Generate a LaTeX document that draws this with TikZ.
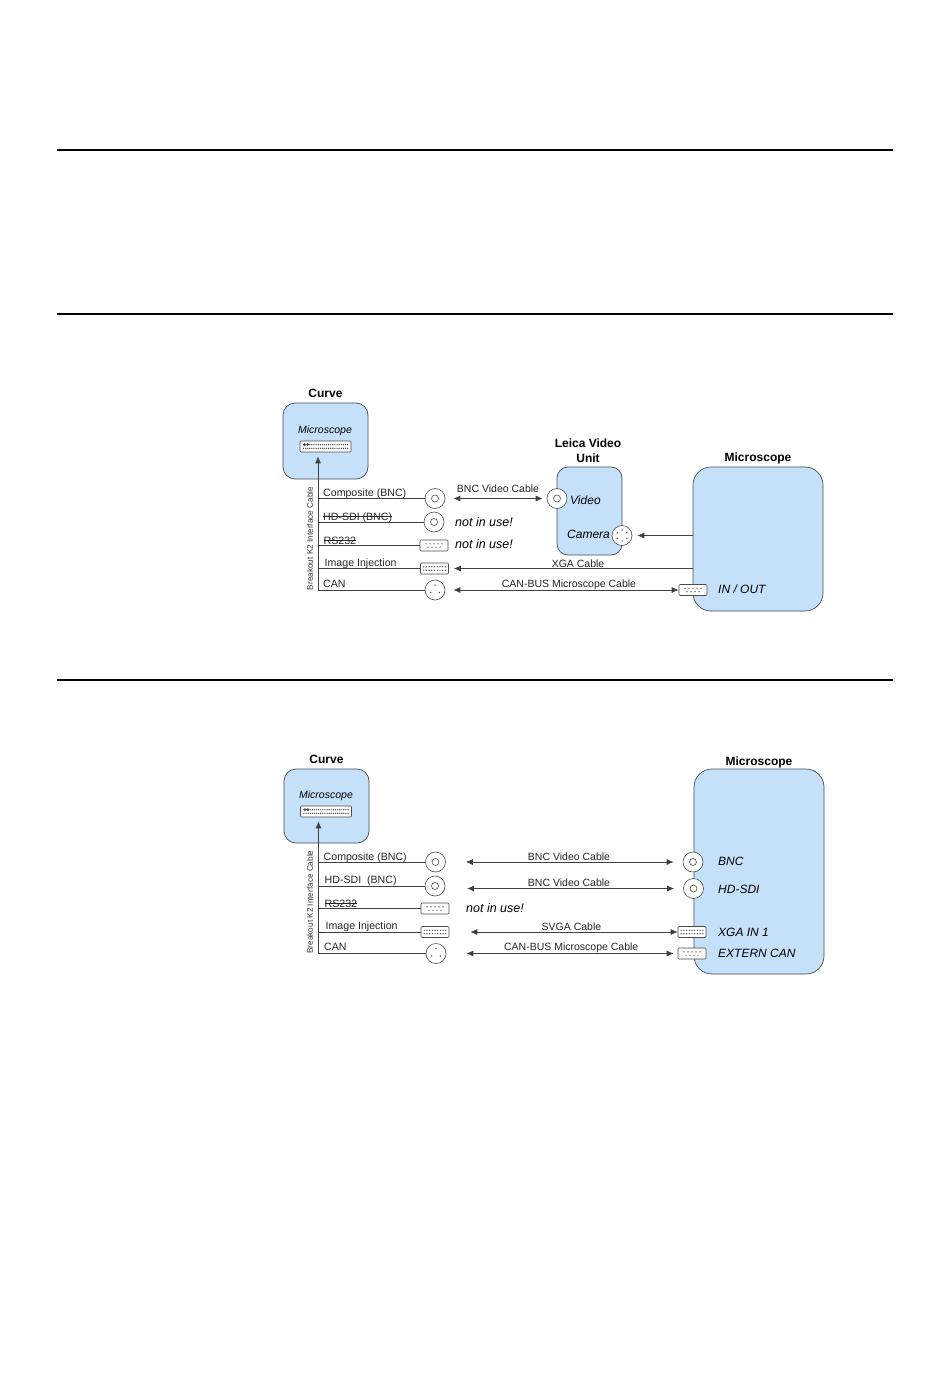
\documentclass[tikz,border=0pt]{standalone}
\usepackage{fontspec}
\setmainfont{Liberation Sans}
\usetikzlibrary{arrows.meta, positioning, calc}
\definecolor{meuazul}{RGB}{197, 225, 250}
\definecolor{meucinza}{RGB}{70, 75, 85}
\newcommand{\pinrow}[3]{\foreach \i in {1,...,#1} \fill[black!75] ($(path picture bounding box.center)+({(\i-(#1+1)/2)*#2},#3)$) circle[radius=0.7pt];}
\newcommand{\pinring}[2]{\foreach \a in {#1} \fill[black!75] ($(path picture bounding box.center)+(\a:#2pt)$) circle[radius=0.75pt];}
\newcommand{\struck}[1]{\setbox0=\hbox{#1}\rlap{\rule[3.2pt]{\wd0}{0.6pt}}\box0}

\begin{document}
\begin{tikzpicture}[x=1pt, y=-1pt,
    unitbox/.style={draw=meucinza, fill=meuazul, rounded corners=#1, line width=0.7pt, inner sep=0pt},
    title/.style={font=\bfseries\fontsize{12}{15}\selectfont, align=center, inner sep=0pt, text height=8.6pt, text depth=0pt},
    port/.style={font=\itshape\fontsize{12}{14}\selectfont, inner sep=0pt},
    tag/.style={font=\fontsize{10.6}{13}\selectfont, anchor=base west, inner sep=0pt, text=black!85},
    cabletag/.style={font=\fontsize{10.5}{12}\selectfont, above, inner sep=1.5pt, text=black!85},
    warn/.style={font=\itshape\fontsize{12.5}{14}\selectfont, inner sep=0pt},
    sidetag/.style={font=\fontsize{8.2}{10}\selectfont, rotate=90, inner sep=0pt, text=black!80},
    bnc/.style={draw=black!70, fill=white, circle, minimum size=20pt, inner sep=0pt, line width=0.6pt, path picture={\draw[black!70] (path picture bounding box.center) circle[radius=3.5pt];}},
    din/.style={draw=black!70, fill=white, circle, minimum size=20pt, inner sep=0pt, line width=0.6pt, path picture={\pinring{90,210,330}{5}}},
    dinsix/.style={draw=black!70, fill=white, circle, minimum size=20pt, inner sep=0pt, line width=0.6pt, path picture={\pinring{30,90,150,210,270,330}{5.5}}},
    dsub/.style={draw=black!70, fill=white, rounded corners=1pt, minimum width=28pt, minimum height=11pt, inner sep=0pt, line width=0.6pt},
    dsubnine/.style={dsub, path picture={\pinrow{5}{4}{-1.7}\pinrow{4}{4}{1.7}}},
    dsubhd/.style={dsub, path picture={\pinrow{9}{2.7}{-1.7}\pinrow{9}{2.7}{1.7}}},
    dsubmain/.style={dsub, minimum width=51pt, path picture={\pinrow{22}{2.1}{-1.8}\pinrow{22}{2.1}{1.8}\fill[black!70] ($(path picture bounding box.center)+(-21,-2)$) circle[radius=1.5pt] ($(path picture bounding box.center)+(-18,-2)$) circle[radius=1.5pt];}},
    link/.style={draw=black!75, line width=0.8pt},
    cable/.style={link, {Latex[length=7pt,width=6pt]}-{Latex[length=7pt,width=6pt]}},
    feed/.style={link, -{Latex[length=7pt,width=6pt]}}
]
    \useasboundingbox (0,0) rectangle (950,1378);
    \fill[white] (0,0) rectangle (950,1378);

    % Rules
    \foreach \y in {150,314,680}
        \draw[line width=1.3pt] (57,\y) -- (893,\y);

    % First diagram: units
    \node[unitbox=12pt, minimum width=85pt, minimum height=76pt] (a_curve) at (325.5,441) {};
    \node[unitbox=11pt, minimum width=65pt, minimum height=88pt] (a_leica) at (589.5,511) {};
    \node[unitbox=18pt, minimum width=130pt, minimum height=144pt] (a_micro) at (758,539) {};
    \node[title, above=4.7pt of a_curve] (a_curvet) {Curve};
    \node[title, above=3.5pt of a_leica, xshift=-1.5pt] (a_leicat) {Leica Video\\Unit};
    \node[title, above=4.7pt of a_micro] (a_microt) {Microscope};
    \node[port, font=\itshape\fontsize{10.5}{13}\selectfont] (a_scope) at (325,431) {Microscope};
    \node[dsubmain] (a_main) at (325.5,446.5) {};

    % First diagram: ports
    \node[bnc] (a_comp) at (435,498.5) {};
    \node[bnc] (a_hdsdi) at (434,522) {};
    \node[dsubnine] (a_rs) at (434,545.5) {};
    \node[dsubhd] (a_inj) at (434.5,568.5) {};
    \node[din] (a_can) at (435,590) {};
    \node[bnc] (a_video) at (557,498.5) {};
    \node[dinsix] (a_camera) at (622,535.5) {};
    \node[dsubnine] (a_inout) at (693,590) {};
    \node[port, anchor=west] (a_videot) at (570,500) {Video};
    \node[port, anchor=west] (a_camerat) at (567,534.5) {Camera};
    \node[port, anchor=west] (a_inoutt) at (718,589) {IN / OUT};
    \node[warn] (a_warn1) at (484,522) {not in use!};
    \node[warn] (a_warn2) at (484,544) {not in use!};

    % First diagram: breakout
    \coordinate (a_bus) at (318,590);
    \node[sidetag] (a_side) at (310,538.5) {Breakout K2 Interface Cable};
    \node[tag] (a_t1) at (323,496) {Composite (BNC)};
    \node[tag] (a_t2) at (323,520) {\struck{HD-SDI (BNC)}};
    \node[tag] (a_t3) at (323.5,544) {\struck{RS232}};
    \node[tag] (a_t4) at (324.5,566) {Image Injection};
    \node[tag] (a_t5) at (323,587.5) {CAN};
    \draw[feed, shorten >=4pt] (a_bus) -- (a_bus |- a_main.south);
    \foreach \p in {a_comp,a_hdsdi,a_rs,a_inj,a_can}
        \draw[link] (a_bus |- \p) -- (\p);

    % First diagram: cables
    \draw[cable, shorten <=8pt, shorten >=4pt] (a_comp) -- node[cabletag, pos=0.52, inner sep=5.5pt] {BNC Video Cable} (a_video);
    \draw[feed, shorten >=5pt] (a_micro.west |- a_camera) -- (a_camera);
    \draw[feed, shorten >=5pt] (a_micro.west |- a_inj) -- node[cabletag, pos=0.47, inner sep=0.5pt] {XGA Cable} (a_inj);
    \draw[cable, shorten <=8pt, shorten >=0pt] (a_can) -- node[cabletag, pos=0.53, inner sep=0pt] {CAN-BUS Microscope Cable} (a_inout);

    % Second diagram: units
    \node[unitbox=12pt, minimum width=85pt, minimum height=74pt] (b_curve) at (326.5,806) {};
    \node[unitbox=18pt, minimum width=130pt, minimum height=205pt] (b_micro) at (759,871.5) {};
    \node[title, above=4.7pt of b_curve] (b_curvet) {Curve};
    \node[title, above=2.7pt of b_micro] (b_microt) {Microscope};
    \node[port, font=\itshape\fontsize{10.5}{13}\selectfont] (b_scope) at (326,796) {Microscope};
    \node[dsubmain] (b_main) at (326,811.5) {};

    % Second diagram: ports
    \node[bnc] (b_comp) at (435.5,862) {};
    \node[bnc] (b_hdsdi) at (435,886) {};
    \node[dsubnine] (b_rs) at (435,908.5) {};
    \node[dsubhd] (b_inj) at (435,932) {};
    \node[din] (b_can) at (436,953.5) {};
    \node[bnc] (b_bnc) at (693,862) {};
    \node[bnc] (b_sdi) at (693.5,888.5) {};
    \node[dsubhd] (b_xga) at (692,932) {};
    \node[dsubnine] (b_ext) at (692,953.5) {};
    \node[port, anchor=west] (b_bnct) at (718,861) {BNC};
    \node[port, anchor=west] (b_sdit) at (718,889) {HD-SDI};
    \node[port, anchor=west] (b_xgat) at (718,932) {XGA IN 1};
    \node[port, anchor=west] (b_extt) at (718,953) {EXTERN CAN};
    \node[warn] (b_warn) at (495,908) {not in use!};

    % Second diagram: breakout
    \coordinate (b_bus) at (318.5,953.5);
    \node[sidetag] (b_side) at (310,902) {Breakout K2 Interface Cable};
    \node[tag] (b_t1) at (323.5,860) {Composite (BNC)};
    \node[tag] (b_t2) at (324.5,883.5) {HD-SDI \ (BNC)};
    \node[tag] (b_t3) at (324.5,907) {\struck{RS232}};
    \node[tag] (b_t4) at (325.5,929.5) {Image Injection};
    \node[tag] (b_t5) at (324,950) {CAN};
    \draw[feed, shorten >=4pt] (b_bus) -- (b_bus |- b_main.south);
    \foreach \p in {b_comp,b_hdsdi,b_rs,b_inj,b_can}
        \draw[link] (b_bus |- \p) -- (\p);

    % Second diagram: cables
    \draw[cable, shorten <=20pt, shorten >=9pt] (b_comp) -- node[cabletag, pos=0.52] {BNC Video Cable} (b_bnc);
    \draw[cable, shorten <=32pt, shorten >=9pt] (b_hdsdi |- b_sdi) -- node[cabletag, pos=0.54] {BNC Video Cable} (b_sdi);
    \draw[cable, shorten <=21pt, shorten >=0pt] (b_inj) -- node[cabletag, pos=0.535] {SVGA Cable} (b_xga);
    \draw[cable, shorten <=20pt, shorten >=4pt] (b_can) -- node[cabletag, pos=0.54, inner sep=0pt] {CAN-BUS Microscope Cable} (b_ext);
\end{tikzpicture}
\end{document}
